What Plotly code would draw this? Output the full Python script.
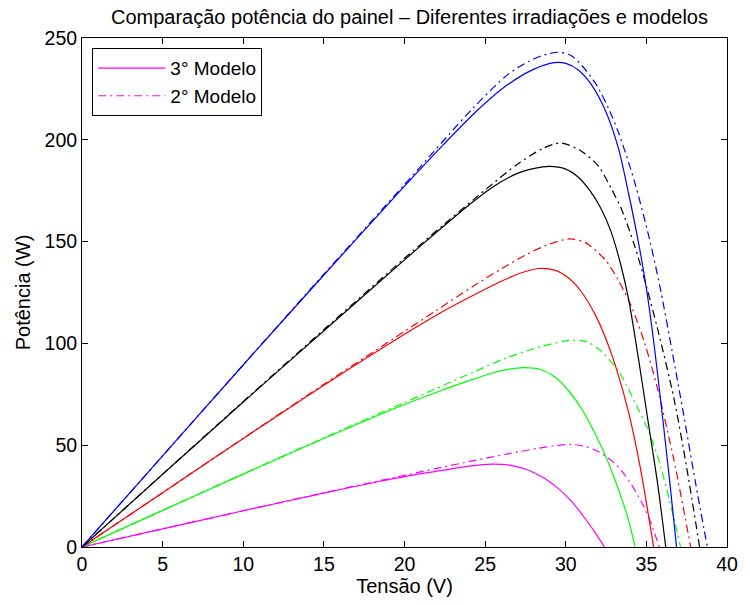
import plotly.graph_objects as go

# ---- data (Tensão V, Potência W) ----
# 3° Modelo (solid) and 2° Modelo (dash-dot), five irradiation levels
blue_solid_v = [0, 5, 10, 15, 20, 22, 24.3, 26.3, 28, 29.3, 30, 30.8, 31.6, 32.45, 33.26, 33.9, 34.5, 35.0, 35.5, 36.0, 36.45, 36.87]
blue_solid_p = [0, 44.8, 89.4, 133.6, 177.2, 194.2, 212.8, 226.5, 234.6, 237.9, 237.5, 234.2, 227, 214.5, 196, 173.5, 150, 127, 98, 64, 32, 0]
blue_dash_v = [0, 5, 10, 15, 20, 24.3, 26.4, 27.7, 28.6, 29.5, 30.3, 31.0, 31.9, 32.65, 33.3, 34.28, 35.2, 35.9, 36.6, 37.3, 38.05, 38.78]
blue_dash_p = [0, 44.8, 89.5, 134, 178, 216, 232, 238.5, 241.5, 243, 241.5, 236.5, 227, 215.5, 203, 179, 151, 125.5, 96, 65.5, 31.5, 0]

black_solid_v = [0, 5, 10, 15, 20, 22, 24, 25.5, 27, 28, 29, 30, 30.8, 31.5, 32.2, 32.8, 33.4, 33.9, 34.5, 35.1, 35.7, 36.2]
black_solid_p = [0, 35.7, 71.2, 106.2, 141, 154.7, 168, 177, 183.5, 185.8, 186.9, 185.6, 181.5, 175, 166, 155, 139, 121.6, 93, 62, 31, 0]
black_dash_v = [0, 5, 10, 15, 20, 22.5, 25.1, 27, 28.6, 29.7, 31.0, 32.04, 32.86, 33.47, 34.28, 35.0, 35.7, 36.72, 37.5, 38.3]
black_dash_p = [0, 35.8, 71.5, 106.8, 141.8, 158.8, 176, 188, 195.8, 198.4, 194.3, 186.9, 175.5, 165.7, 147.7, 128.1, 107, 72.5, 39, 0]

red_solid_v = [0, 5, 10, 15, 20, 22, 24, 26, 27.3, 28.3, 29.3, 30.2, 31.0, 31.8, 32.5, 33.2, 33.9, 34.6, 35.45]
red_solid_p = [0, 26.7, 53.3, 79.5, 104.5, 114, 122.5, 130.5, 134.8, 136.8, 136, 132, 125, 114.5, 102, 86, 66, 40, 0]
red_dash_v = [0, 5, 10, 15, 20, 22, 24.3, 26, 27.6, 28.9, 30.2, 31.2, 32.45, 33.26, 34.08, 34.9, 35.7, 36.7, 37.75]
red_dash_p = [0, 26.7, 53.4, 79.9, 105.9, 116.3, 128.3, 136.6, 143.8, 148.5, 151.3, 149.6, 141, 131, 118, 100, 77.5, 43, 0]

green_solid_v = [0, 5, 10, 15, 20, 22, 24, 25.5, 26.4, 27.36, 28.4, 29.4, 30.2, 31.0, 31.8, 32.45, 33.0, 33.5, 33.9, 34.3]
green_solid_p = [0, 18, 35.8, 53.3, 70, 76, 81.7, 85.6, 87.2, 88.1, 87.3, 83, 76.5, 67.6, 56, 45, 34, 23, 13, 0]
green_dash_v = [0, 5, 10, 15, 20, 24.3, 26.3, 28.4, 30.4, 31.3, 32.04, 33.26, 34.48, 35.1, 35.7, 36.4, 37.12]
green_dash_p = [0, 18, 35.9, 53.6, 71, 86, 92.8, 98.3, 101.6, 100.7, 97.3, 86.5, 68, 57.5, 44.5, 24, 0]

magenta_solid_v = [0, 5, 10, 15, 18.2, 20, 22.3, 24.0, 25.4, 26.6, 27.7, 28.7, 29.6, 30.4, 31.2, 31.8, 32.4]
magenta_solid_p = [0, 8.9, 17.8, 26.5, 31.8, 34.6, 37.6, 39.7, 40.7, 40.1, 37.7, 33.6, 28.3, 22, 14, 7.3, 0]
magenta_dash_v = [0, 5, 10, 15, 20, 22.3, 24.3, 26.5, 28.3, 29.5, 30.3, 31.2, 32.04, 33.06, 33.7, 34.28, 34.8, 35.3, 35.8]
magenta_dash_p = [0, 8.9, 17.8, 26.6, 35.2, 39.1, 42.4, 45.9, 48.5, 49.9, 50.4, 49.4, 46.8, 40.9, 35, 28, 20.5, 11.5, 0]

x_ticks = [0, 5, 10, 15, 20, 25, 30, 35, 40]
y_ticks = [0, 50, 100, 150, 200, 250]

FONT = "Liberation Sans, Arial, sans-serif"
DASHDOT = "8px,4px,2px,4px"

series = [
    ("magenta", magenta_solid_v, magenta_solid_p, "solid", "3° Modelo", True),
    ("magenta", magenta_dash_v, magenta_dash_p, DASHDOT, "2° Modelo", True),
    ("#00ff00", green_solid_v, green_solid_p, "solid", None, False),
    ("#00ff00", green_dash_v, green_dash_p, DASHDOT, None, False),
    ("red", red_solid_v, red_solid_p, "solid", None, False),
    ("red", red_dash_v, red_dash_p, DASHDOT, None, False),
    ("black", black_solid_v, black_solid_p, "solid", None, False),
    ("black", black_dash_v, black_dash_p, DASHDOT, None, False),
    ("blue", blue_solid_v, blue_solid_p, "solid", None, False),
    ("blue", blue_dash_v, blue_dash_p, DASHDOT, None, False),
]

fig = go.Figure()
for color, v, p, dash, name, show in series:
    fig.add_trace(go.Scatter(
        x=v, y=p, mode="lines", name=name, showlegend=show,
        line=dict(color=color, width=1.2, dash=dash, shape="spline", smoothing=0.8),
    ))

axis_common = dict(
    showgrid=False, zeroline=False, showline=True, linecolor="black", linewidth=1,
    mirror="allticks", ticks="inside", ticklen=6, tickcolor="black", tickwidth=1,
    tickfont=dict(family=FONT, size=19.5, color="black"),
)

fig.update_layout(
    width=750, height=605,
    margin=dict(l=82, r=13, t=38, b=57),
    paper_bgcolor="white", plot_bgcolor="white",
    font=dict(family=FONT, color="black"),
    title=dict(text="Comparação potência do painel – Diferentes irradiações e modelos",
               x=0.546, xanchor="center", y=0.972, yanchor="middle",
               font=dict(family=FONT, size=20, color="black")),
    xaxis=dict(range=[0, 40], tickvals=x_ticks,
               title=dict(text="Tensão (V)", font=dict(family=FONT, size=20), standoff=4),
               **axis_common),
    yaxis=dict(range=[0, 250], tickvals=y_ticks,
               title=dict(text="Potência (W)", font=dict(family=FONT, size=20), standoff=8),
               **axis_common),
    legend=dict(x=0.016, y=0.98, xanchor="left", yanchor="top",
                bgcolor="white", bordercolor="black", borderwidth=1,
                font=dict(family=FONT, size=19, color="black"),
                tracegroupgap=0, itemwidth=67),
)

fig.write_html("out.html")
